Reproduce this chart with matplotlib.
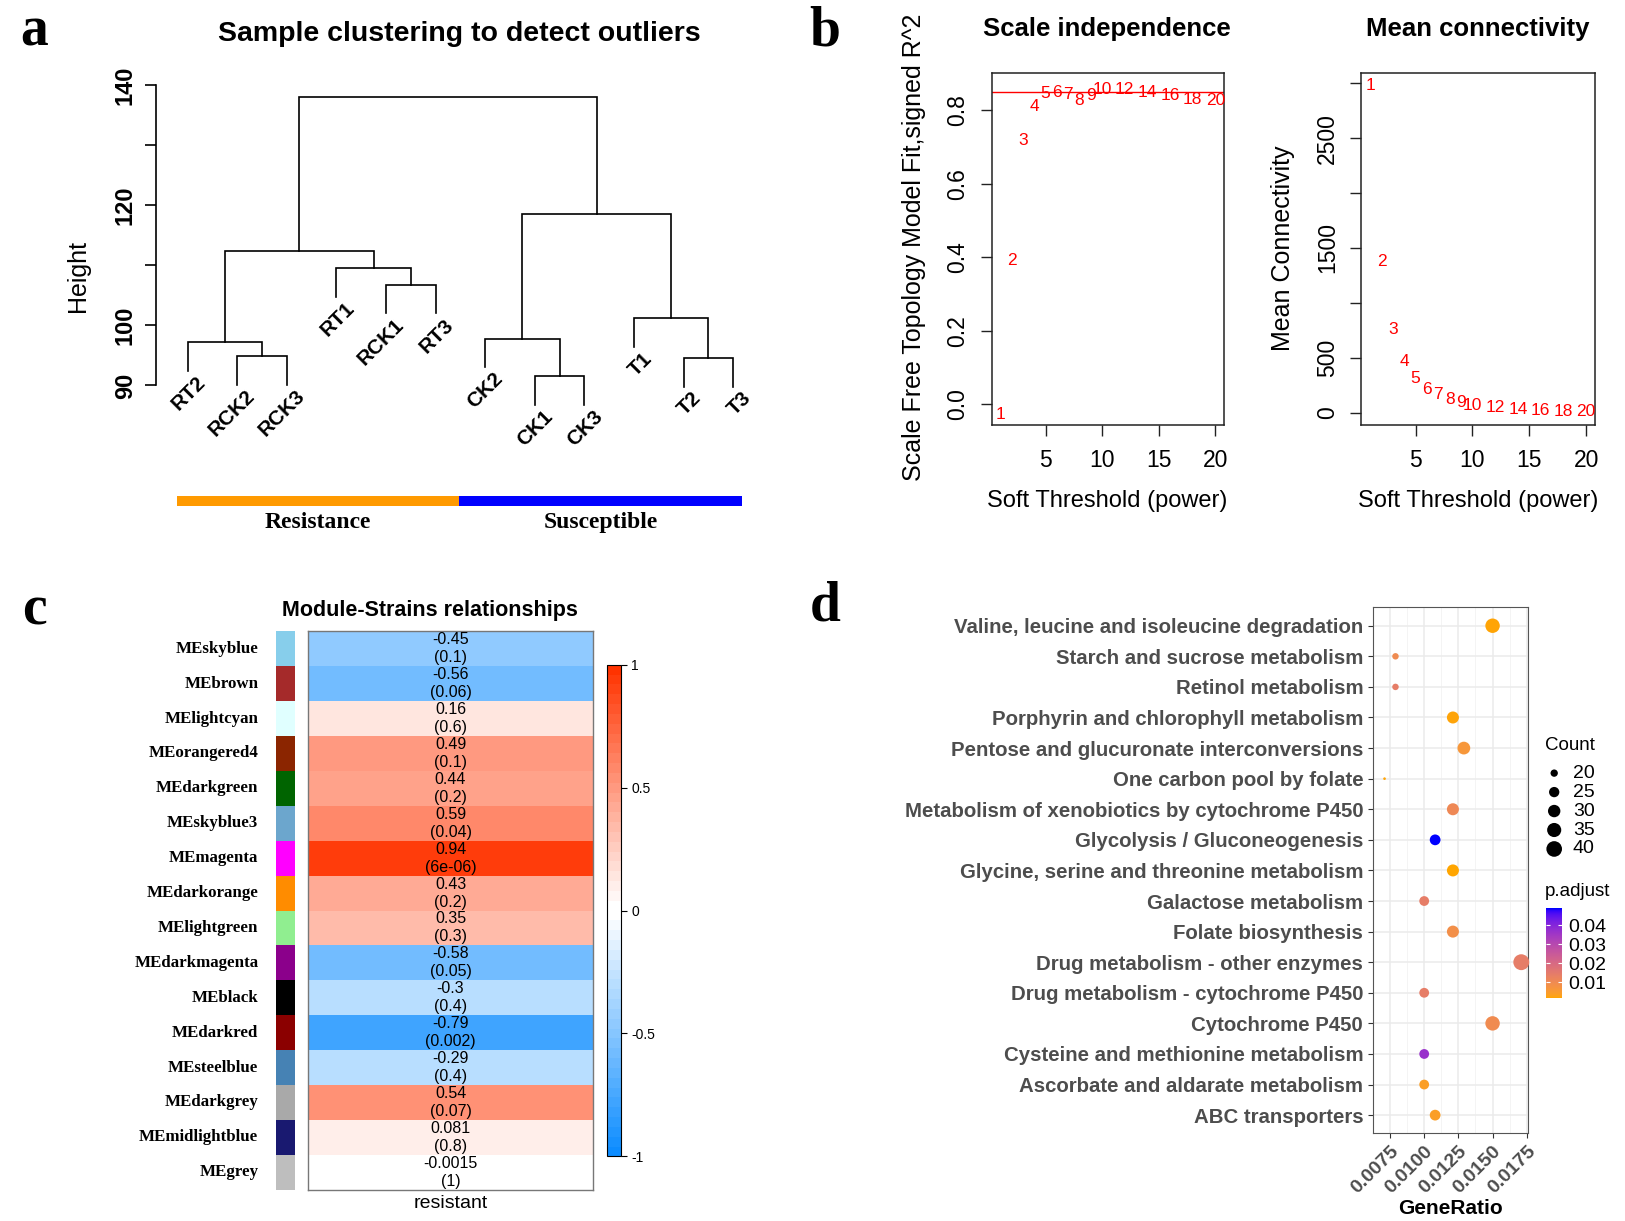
import numpy as np
import matplotlib
matplotlib.use("Agg")
import matplotlib.pyplot as plt
from matplotlib import font_manager
from matplotlib.colors import LinearSegmentedColormap, ListedColormap, Normalize
from matplotlib.cm import ScalarMappable

# ---------------- data ----------------
# a: sample clustering (hclust style merges, negative = leaf)
leaf_labels = ["RT2", "RCK2", "RCK3", "RT1", "RCK1", "RT3",
               "CK2", "CK1", "CK3", "T1", "T2", "T3"]
merge_a = [-2, -1, -5, -4, 2, -8, -7, -11, -10, 7, 5]
merge_b = [-3, 1, -6, 3, 4, -9, 6, -12, 8, 9, 10]
merge_height = [94.9, 97.2, 106.8, 109.5, 112.4, 91.5, 97.8, 94.6, 101.2, 118.5, 138.0]
hang = 4.8
group_names = ["Resistance", "Susceptible"]
group_sizes = [6, 6]
group_colors = ["#FF9A00", "#0000FF"]

# b: soft threshold
powers = [1, 2, 3, 4, 5, 6, 7, 8, 9, 10, 12, 14, 16, 18, 20]
sft_r2 = [-0.027, 0.391, 0.719, 0.810, 0.846, 0.850, 0.843, 0.827, 0.841,
          0.856, 0.857, 0.850, 0.841, 0.830, 0.828]
mean_k = [2975, 1374, 761, 466, 307, 215, 163, 117, 92, 61, 46, 31, 21, 12, 6]
r2_cut = 0.85

# c: module-trait relationships
module_names = ["MEskyblue", "MEbrown", "MElightcyan", "MEorangered4", "MEdarkgreen",
                "MEskyblue3", "MEmagenta", "MEdarkorange", "MElightgreen", "MEdarkmagenta",
                "MEblack", "MEdarkred", "MEsteelblue", "MEdarkgrey", "MEmidlightblue", "MEgrey"]
module_colors = ["#87CEEB", "#A52A2A", "#E0FFFF", "#8B2500", "#006400",
                 "#6CA6CD", "#FF00FF", "#FF8C00", "#90EE90", "#8B008B",
                 "#000000", "#8B0000", "#4682B4", "#A9A9A9", "#191970", "#BEBEBE"]
module_cor = [-0.45, -0.56, 0.16, 0.49, 0.44, 0.59, 0.94, 0.43, 0.35, -0.58,
              -0.3, -0.79, -0.29, 0.54, 0.081, -0.0015]
module_p = [0.1, 0.06, 0.6, 0.1, 0.2, 0.04, 6e-06, 0.2, 0.3, 0.05,
            0.4, 0.002, 0.4, 0.07, 0.8, 1]
trait = "resistant"

# d: KEGG enrichment
pathways = ["Valine, leucine and isoleucine degradation", "Starch and sucrose metabolism",
            "Retinol metabolism", "Porphyrin and chlorophyll metabolism",
            "Pentose and glucuronate interconversions", "One carbon pool by folate",
            "Metabolism of xenobiotics by cytochrome P450", "Glycolysis / Gluconeogenesis",
            "Glycine, serine and threonine metabolism", "Galactose metabolism",
            "Folate biosynthesis", "Drug metabolism - other enzymes",
            "Drug metabolism - cytochrome P450", "Cytochrome P450",
            "Cysteine and methionine metabolism", "Ascorbate and aldarate metabolism",
            "ABC transporters"]
gene_ratio = [0.0150, 0.0079, 0.0079, 0.0121, 0.0129, 0.0071, 0.0121, 0.0108, 0.0121,
              0.0100, 0.0121, 0.0171, 0.0100, 0.0150, 0.0100, 0.0100, 0.0108]
counts = [36, 19, 19, 29, 31, 17, 29, 26, 29, 24, 29, 41, 24, 36, 24, 24, 26]
p_adjust = [0.0017, 0.0098, 0.0141, 0.0020, 0.0060, 0.0017, 0.0105, 0.0490, 0.0015,
            0.0141, 0.0084, 0.0141, 0.0141, 0.0095, 0.0366, 0.0036, 0.0036]
count_breaks = [20, 25, 30, 35, 40]
padj_breaks = [0.01, 0.02, 0.03, 0.04]

# ---------------- layout helpers (reference measured on a 1560x1172 grid) ----------------
W, H = 1560.0, 1172.0


def box(x0, y0, x1, y1):
    return [x0 / W, 1 - y1 / H, (x1 - x0) / W, (y1 - y0) / H]


def fxy(x, y):
    return x / W, 1 - y / H


names = {f.name for f in font_manager.fontManager.ttflist}
SANS = "Liberation Sans" if "Liberation Sans" in names else "DejaVu Sans"
SERIF = "Liberation Serif" if "Liberation Serif" in names else "DejaVu Serif"
NARROW = "Liberation Sans Narrow" if "Liberation Sans Narrow" in names else SANS
plt.rcParams["font.family"] = SANS

fig = plt.figure(figsize=(16.25, 12.21), dpi=100)

for lab, (x, y) in zip("abcd", [(33, 30), (792, 30), (33, 586), (792, 582)]):
    fig.text(*fxy(x, y), lab, family=SERIF, weight="bold", fontsize=40,
             ha="center", va="center")

# ---------------- panel a ----------------
ax = fig.add_axes(box(150, 82, 712, 370))
nodes = {}


def child(k):
    if k < 0:
        return float(-k), None
    return nodes[k]


leaf_bottom = {}
for m, (a, b, h) in enumerate(zip(merge_a, merge_b, merge_height), start=1):
    xa, ha_ = child(a)
    xb, hb_ = child(b)
    ya = h - hang if ha_ is None else ha_
    yb = h - hang if hb_ is None else hb_
    if a < 0:
        leaf_bottom[-a] = ya
    if b < 0:
        leaf_bottom[-b] = yb
    ax.plot([xa, xa, xb, xb], [ya, h, h, yb], color="black", lw=1.2,
            clip_on=False, solid_joinstyle="miter")
    nodes[m] = ((xa + xb) / 2, h)

for i, lab in enumerate(leaf_labels, start=1):
    ax.text(i + 0.3, leaf_bottom[i] - 1.4, lab, rotation=45, rotation_mode="anchor",
            ha="right", va="center", fontsize=15, weight="bold", clip_on=False)

ax.set_xlim(0.37, 12.17)
ax.set_ylim(90, 140)
for s in ["top", "right", "bottom"]:
    ax.spines[s].set_visible(False)
ax.spines["left"].set_linewidth(1.2)
ax.set_xticks([])
ax.set_yticks([90, 100, 110, 120, 130, 140])
ax.set_yticklabels(["90", "100", "", "120", "", "140"], rotation=90, va="center",
                   fontsize=17, weight="bold")
ax.tick_params(axis="y", length=8, width=1.2, pad=6)
ax.patch.set_alpha(0)
fig.text(*fxy(75, 265), "Height", rotation=90, ha="center", va="center", fontsize=18)
fig.text(*fxy(441, 33), "Sample clustering to detect outliers", ha="center",
         va="center", fontsize=20.5, weight="bold")

axb = fig.add_axes(box(170, 476, 712, 486))
lefts = np.concatenate([[0], np.cumsum(group_sizes)[:-1]])
axb.barh(0, group_sizes, left=lefts, height=1, color=group_colors)
for l, s, g in zip(lefts, group_sizes, group_names):
    axb.text(l + s / 2, -2.1, g, ha="center", va="center", family=SERIF,
             weight="bold", fontsize=17)
axb.set_xlim(0, sum(group_sizes))
axb.set_ylim(-0.5, 0.5)
axb.axis("off")

# ---------------- panel b ----------------
def r_style(axx):
    for s in axx.spines.values():
        s.set_linewidth(1.1)
        s.set_color("#222222")
    axx.tick_params(length=8, width=1.0, labelsize=16.5, color="#222222")
    axx.tick_params(axis="x", pad=9)
    axx.tick_params(axis="y", pad=8)


ax1 = fig.add_axes(box(952, 70, 1175, 408))
ax1.axhline(r2_cut, color="red", lw=1.0)
for p, v in zip(powers, sft_r2):
    ax1.text(p, v, str(p), color="red", ha="center", va="center", fontsize=12.5,
             family=NARROW)
ax1.set_xlim(0.24, 20.76)
ax1.set_ylim(-0.057, 0.902)
ax1.set_xticks([5, 10, 15, 20])
ax1.set_yticks([0, 0.2, 0.4, 0.6, 0.8])
ax1.set_yticklabels(["0.0", "0.2", "0.4", "0.6", "0.8"], rotation=90, va="center")
r_style(ax1)
fig.text(*fxy(1063, 28), "Scale independence", ha="center", va="center",
         fontsize=18.5, weight="bold")
fig.text(*fxy(877, 237), "Scale Free Topology Model Fit,signed R^2", rotation=90,
         ha="center", va="center", fontsize=18)
fig.text(*fxy(1063, 481), "Soft Threshold (power)", ha="center", va="center", fontsize=17)

ax2 = fig.add_axes(box(1307, 70, 1531, 408))
for p, v in zip(powers, mean_k):
    ax2.text(p, v, str(p), color="red", ha="center", va="center", fontsize=12.5,
             family=NARROW)
ax2.set_xlim(0.24, 20.76)
ax2.set_ylim(-113, 3094)
ax2.set_xticks([5, 10, 15, 20])
ax2.set_yticks([0, 500, 1000, 1500, 2000, 2500, 3000])
ax2.set_yticklabels(["0", "500", "", "1500", "", "2500", ""], rotation=90, va="center")
r_style(ax2)
fig.text(*fxy(1419, 28), "Mean connectivity", ha="center", va="center",
         fontsize=18.5, weight="bold")
fig.text(*fxy(1232, 238), "Mean Connectivity", rotation=90, ha="center",
         va="center", fontsize=18)
fig.text(*fxy(1419, 481), "Soft Threshold (power)", ha="center", va="center", fontsize=17)

# ---------------- panel c ----------------
# WGCNA blueWhiteRed(50): two halves of 25, each ending on white
blue_end, red_end = np.array([0.05, 0.55, 1.0]), np.array([1.0, 0.2, 0.0])
frac = np.linspace(0, 1, 25)
half_blue = [blue_end + (1 - blue_end) * f for f in frac]
half_red = [red_end + (1 - red_end) * f for f in frac[::-1]]
bwr = ListedColormap(half_blue + half_red, name="blueWhiteRed")
nmod = len(module_names)

axc = fig.add_axes(box(296, 606, 569, 1142))
axc.pcolormesh(np.array(module_cor).reshape(-1, 1), cmap=bwr, vmin=-1, vmax=1)
for i, (r, p) in enumerate(zip(module_cor, module_p)):
    axc.text(0.5, i + 0.5, "{:.2g}\n({:.1g})".format(r, p), ha="center", va="center",
             fontsize=11.5, linespacing=1.25)
axc.set_xlim(0, 1)
axc.set_ylim(nmod, 0)
axc.set_yticks([])
axc.set_xticks([0.5])
axc.set_xticklabels([trait], fontsize=14)
axc.tick_params(axis="x", length=0, pad=4)
for s in axc.spines.values():
    s.set_color("#777777")
    s.set_linewidth(1.0)

axs = fig.add_axes(box(265, 606, 283, 1142))
axs.barh(np.arange(nmod) + 0.5, 1, height=1, color=module_colors)
axs.set_xlim(0, 1)
axs.set_ylim(nmod, 0)
axs.axis("off")
for i, nm in enumerate(module_names):
    fig.text(*fxy(248, 606 + (i + 0.5) * (1142 - 606) / nmod), nm, ha="right",
             va="center", family=SERIF, weight="bold", fontsize=12.2)

axcb = fig.add_axes(box(583, 638, 596, 1110))
cb = fig.colorbar(ScalarMappable(Normalize(-1, 1), bwr), cax=axcb,
                  ticks=[-1, -0.5, 0, 0.5, 1])
cb.ax.set_yticklabels(["-1", "-0.5", "0", "0.5", "1"])
cb.ax.tick_params(labelsize=10, length=4, width=0.8)
cb.outline.set_linewidth(0.8)
fig.text(*fxy(413, 586), "Module-Strains relationships", ha="center", va="center",
         fontsize=15.5, weight="bold")

# ---------------- panel d ----------------
M = np.array([[0.4124, 0.3576, 0.1805], [0.2126, 0.7152, 0.0722], [0.0193, 0.1192, 0.9505]])
WHITE = np.array([0.95047, 1.0, 1.08883])


def to_lab(c):
    c = np.asarray(c, float)
    lin = np.where(c <= 0.04045, c / 12.92, ((c + 0.055) / 1.055) ** 2.4)
    xyz = M @ lin / WHITE
    f = np.where(xyz > (6 / 29) ** 3, np.cbrt(xyz), xyz / (3 * (6 / 29) ** 2) + 4 / 29)
    return np.array([116 * f[1] - 16, 500 * (f[0] - f[1]), 200 * (f[1] - f[2])])


def from_lab(lab):
    fy = (lab[0] + 16) / 116
    f = np.array([fy + lab[1] / 500, fy, fy - lab[2] / 200])
    xyz = np.where(f > 6 / 29, f ** 3, 3 * (6 / 29) ** 2 * (f - 4 / 29)) * WHITE
    lin = np.clip(np.linalg.solve(M, xyz), 0, 1)
    return np.clip(np.where(lin <= 0.0031308, 12.92 * lin, 1.055 * lin ** (1 / 2.4) - 0.055), 0, 1)


lo, hi = to_lab((1.0, 0.647, 0.0)), to_lab((0.0, 0.0, 1.0))
padj_cmap = LinearSegmentedColormap.from_list(
    "orange_blue", [from_lab(lo + t * (hi - lo)) for t in np.linspace(0, 1, 64)])
padj_norm = Normalize(min(p_adjust), max(p_adjust))

cmin, cmax = min(counts), max(counts)


def size_pts(c):
    mm = 1 + 5 * np.sqrt((np.asarray(c, float) - cmin) / (cmax - cmin))
    return (mm * 2.65 * 0.72) ** 2


grey30 = "#4D4D4D"
n = len(pathways)
ypos = np.arange(n, 0, -1)
axd = fig.add_axes(box(1318, 583, 1467, 1088))
axd.set_xlim(0.00655, 0.0176)
axd.set_ylim(0.4, n + 0.6)
axd.set_xticks([0.0075, 0.0100, 0.0125, 0.0150, 0.0175])
axd.set_xticks([0.00625, 0.00875, 0.01125, 0.01375, 0.01625], minor=True)
axd.set_xticklabels(["0.0075", "0.0100", "0.0125", "0.0150", "0.0175"], rotation=45,
                    ha="right", va="top", rotation_mode="anchor", fontsize=14,
                    weight="bold", color=grey30)
axd.set_yticks(ypos)
axd.set_yticklabels(pathways, fontsize=14.7, weight="bold", color=grey30)
axd.grid(True, which="major", color="#EBEBEB", lw=1.1)
axd.grid(True, which="minor", axis="x", color="#F2F2F2", lw=0.6)
axd.set_axisbelow(True)
axd.tick_params(axis="both", which="major", length=3.5, width=0.8, color="#333333")
axd.tick_params(axis="x", which="major", pad=3)
axd.tick_params(axis="x", which="minor", length=0)
for s in axd.spines.values():
    s.set_color("#555555")
    s.set_linewidth(0.8)
axd.scatter(gene_ratio, ypos, s=size_pts(counts), c=p_adjust, cmap=padj_cmap,
            norm=padj_norm, edgecolors="none", zorder=3, clip_on=False)
axd.set_xlabel("GeneRatio", fontsize=15, weight="bold", labelpad=2)

fig.text(*fxy(1483, 716), "Count", ha="left", va="center", fontsize=13.5)
axl = fig.add_axes(box(1480, 733, 1545, 824))
axl.scatter([0.185] * len(count_breaks), np.arange(len(count_breaks)),
            s=size_pts(count_breaks), color="black", edgecolors="none")
for i, c in enumerate(count_breaks):
    axl.text(0.46, i, str(c), ha="left", va="center", fontsize=14)
axl.set_xlim(0, 1)
axl.set_ylim(len(count_breaks) - 0.5, -0.5)
axl.axis("off")

fig.text(*fxy(1483, 856), "p.adjust", ha="left", va="center", fontsize=13.5)
axp = fig.add_axes(box(1484, 872, 1500, 958))
cbp = fig.colorbar(ScalarMappable(padj_norm, padj_cmap), cax=axp, ticks=padj_breaks)
cbp.ax.set_yticklabels(["{:.2f}".format(b) for b in padj_breaks])
cbp.outline.set_visible(False)
cbp.ax.tick_params(labelsize=14, length=3, width=0.8, color="white", direction="in",
                   left=True, right=True, pad=4)

fig.savefig("out.png", dpi=100)
